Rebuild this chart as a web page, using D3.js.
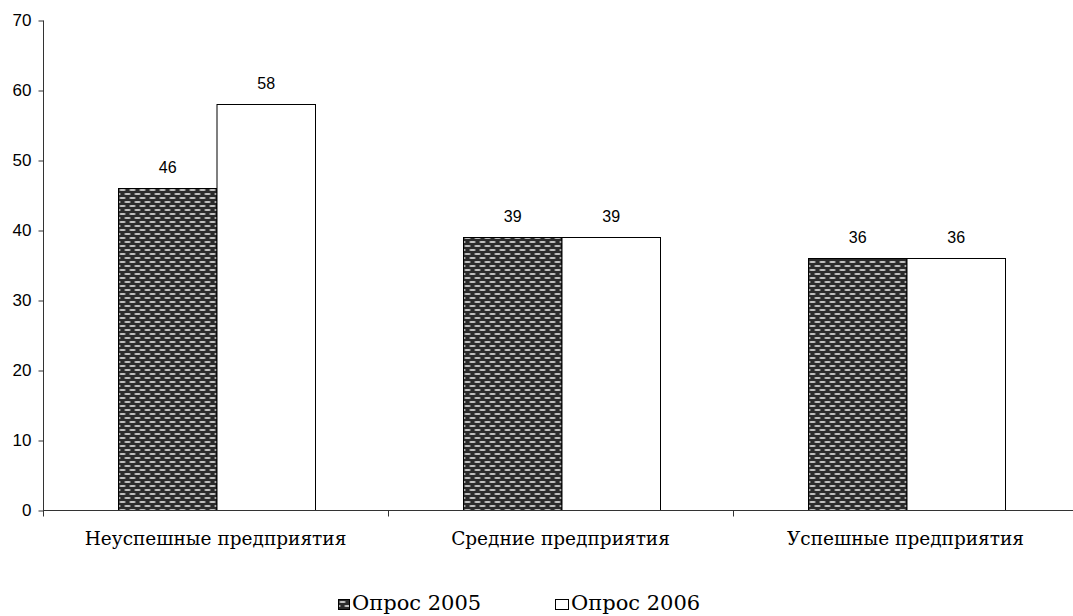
<!DOCTYPE html>
<html>
<head>
<meta charset="utf-8">
<script src="https://cdn.jsdelivr.net/npm/d3@7"></script>
<style>
  html, body { margin: 0; padding: 0; background: #fff; }
  svg { display: block; }
</style>
</head>
<body>
<svg id="chart" width="1073" height="616"></svg>
<script>
const categories = ["Неуспешные предприятия", "Средние предприятия", "Успешные предприятия"];
const seriesNames = ["Опрос 2005", "Опрос 2006"];
const values2005 = [46, 39, 36];
const values2006 = [58, 39, 36];
const yTicks = [0, 10, 20, 30, 40, 50, 60, 70];

(function () {
const svg = d3.select("#chart");
const W = 1073;
const mLeft = 43, mBottom = 510, mTop = 20;

// pattern for 2005 series
const defs = svg.append("defs");
const pat = defs.append("pattern")
  .attr("id", "brick")
  .attr("patternUnits", "userSpaceOnUse")
  .attr("width", 10).attr("height", 8);
pat.append("rect").attr("width", 10).attr("height", 8).attr("fill", "#2b2b2b");
pat.append("rect").attr("x", 1.5).attr("y", 1).attr("width", 6).attr("height", 2).attr("fill", "#9a9a9a");
pat.append("rect").attr("x", 2.5).attr("y", 1.5).attr("width", 4).attr("height", 1).attr("fill", "#e6e6e6");
pat.append("rect").attr("x", 6.5).attr("y", 5).attr("width", 6).attr("height", 2).attr("fill", "#9a9a9a");
pat.append("rect").attr("x", 7.5).attr("y", 5.5).attr("width", 4).attr("height", 1).attr("fill", "#e6e6e6");
pat.append("rect").attr("x", -3.5).attr("y", 5).attr("width", 6).attr("height", 2).attr("fill", "#9a9a9a");
pat.append("rect").attr("x", -2.5).attr("y", 5.5).attr("width", 4).attr("height", 1).attr("fill", "#e6e6e6");

const x0 = d3.scaleBand().domain(categories).range([mLeft, mLeft + 345 * 3]).padding(0);
const x1 = d3.scaleBand().domain(seriesNames).range([75, 272]).padding(0);
const y = d3.scaleLinear().domain([0, 70]).range([mBottom, mTop]);

const data = categories.map((c, i) => ({
  cat: c,
  vals: [
    { s: seriesNames[0], v: values2005[i] },
    { s: seriesNames[1], v: values2006[i] }
  ]
}));

const fills = { "Опрос 2005": "url(#brick)", "Опрос 2006": "#ffffff" };

// bars
const g = svg.append("g");
const groups = g.selectAll("g.grp").data(data).join("g")
  .attr("class", "grp")
  .attr("transform", d => `translate(${x0(d.cat)},0)`);

groups.selectAll("rect").data(d => d.vals).join("rect")
  .attr("x", d => x1(d.s) + 0.5)
  .attr("y", d => y(d.v) + 0.5)
  .attr("width", x1.bandwidth())
  .attr("height", d => y(0) - y(d.v))
  .attr("fill", d => fills[d.s])
  .attr("stroke", "#000")
  .attr("stroke-width", 1);

groups.selectAll("text.val").data(d => d.vals).join("text")
  .attr("class", "val")
  .attr("x", d => x1(d.s) + x1.bandwidth() / 2 + 0.5)
  .attr("y", d => y(d.v) - 15)
  .attr("text-anchor", "middle")
  .attr("font-family", "Liberation Sans, Arial, sans-serif")
  .attr("font-size", 16)
  .attr("fill", "#000")
  .text(d => d.v);

// y axis
const yAxis = d3.axisLeft(y).tickValues(yTicks).tickSize(5).tickPadding(7).tickFormat(d3.format("d"));
const yg = svg.append("g").attr("transform", `translate(${mLeft + 0.5},0.5)`).call(yAxis);
yg.select(".domain").attr("stroke", "#333").attr("d", `M0,${mTop}V${mBottom}`);
yg.selectAll(".tick line").attr("stroke", "#333");
yg.selectAll(".tick text")
  .attr("font-family", "Liberation Sans, Arial, sans-serif")
  .attr("font-size", 17)
  .attr("fill", "#000");

// x axis
const xg = svg.append("g").attr("transform", `translate(0,${mBottom + 0.5})`);
xg.append("line").attr("x1", mLeft).attr("x2", W).attr("y1", 0).attr("y2", 0).attr("stroke", "#333");
const bounds = categories.map(c => x0(c)).concat([x0(categories[categories.length - 1]) + x0.step()]);
xg.selectAll("line.sep").data(bounds).join("line")
  .attr("class", "sep")
  .attr("x1", d => d + 0.5).attr("x2", d => d + 0.5)
  .attr("y1", 0).attr("y2", 6)
  .attr("stroke", "#333");
xg.selectAll("text.cat").data(categories).join("text")
  .attr("class", "cat")
  .attr("x", d => x0(d) + x0.step() / 2)
  .attr("y", 34)
  .attr("text-anchor", "middle")
  .attr("font-family", "DejaVu Serif, serif")
  .attr("font-size", 18.5)
  .attr("fill", "#000")
  .text(d => d);

// legend
const legendX = [338, 555];
const legendW = [11, 13];
const lg = svg.append("g");
const items = lg.selectAll("g").data(seriesNames).join("g")
  .attr("transform", (d, i) => `translate(${legendX[i]},0)`);
items.append("rect")
  .attr("x", 0.5).attr("y", 599.5).attr("width", (d, i) => legendW[i]).attr("height", 10)
  .attr("fill", d => fills[d]).attr("stroke", "#000");
items.append("text")
  .attr("x", (d, i) => legendW[i] + 3).attr("y", 610)
  .attr("font-family", "DejaVu Serif, serif")
  .attr("font-size", 21)
  .attr("fill", "#000")
  .text(d => d);
})();
</script>
</body>
</html>
